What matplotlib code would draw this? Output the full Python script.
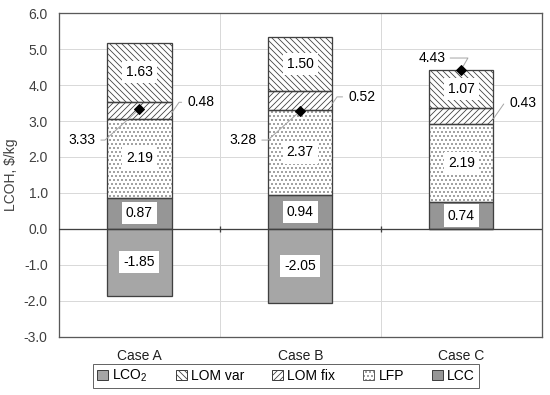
import numpy as np
import matplotlib.pyplot as plt
from matplotlib.patches import Patch

# Saved at 72 dpi so the hatch tile is a whole number of pixels (crisp hatches);
# S scales sizes given in points to look as they would at 100 dpi.
DPI = 72
S = 100 / DPI

plt.rcParams['font.family'] = ['Liberation Sans', 'DejaVu Sans']
plt.rcParams['mathtext.default'] = 'regular'
plt.rcParams['hatch.linewidth'] = 0.8

# Data
cases = ["Case A", "Case B", "Case C"]
lcc = [0.87, 0.94, 0.74]
lfp = [2.19, 2.37, 2.19]
lom_fix = [0.48, 0.52, 0.43]
lom_var = [1.63, 1.50, 1.07]
lco2 = [-1.85, -2.05, 0.0]
total = [3.33, 3.28, 4.43]

x = np.arange(len(cases))
w = 0.4
edge = "#404040"

H_VAR = "\\" * 4
H_FIX = "/" * 4
H_LFP = "." * 3
H_LCC = "|" * 6

fig = plt.figure(figsize=(550 / DPI, 395 / DPI), dpi=DPI)
ax = fig.add_axes([0.107, 0.147, 0.878, 0.820])

# Positive stack: LCC, LFP, LOM fix, LOM var
bottom = np.zeros(len(cases))
segs = [
    ("LCC", lcc, "#d0d0d0", H_LCC, "#404040"),
    ("LFP", lfp, "white", H_LFP, "#606060"),
    ("LOM fix", lom_fix, "white", H_FIX, "#404040"),
    ("LOM var", lom_var, "white", H_VAR, "#404040"),
]
centers = {}
for name, vals, fc, hatch, hc in segs:
    vals = np.array(vals)
    ax.bar(x, vals, w, bottom=bottom, facecolor=fc, hatch=hatch,
           edgecolor=hc, linewidth=0, zorder=2)
    ax.bar(x, vals, w, bottom=bottom, fill=False, edgecolor=edge,
           linewidth=1.3, zorder=3)
    centers[name] = bottom + vals / 2
    bottom = bottom + vals

# Negative LCO2
ax.bar(x, lco2, w, color="#a6a6a6", edgecolor=edge, linewidth=1.3, zorder=3)

box = dict(boxstyle="square,pad=0.3", facecolor="white", edgecolor="none")
fs = 10 * S
lead = dict(arrowstyle="-", color="#a6a6a6", lw=1.0)

# Labels inside bars
for i in range(len(cases)):
    for name, vals in (("LCC", lcc), ("LFP", lfp), ("LOM var", lom_var)):
        ax.text(x[i], centers[name][i], f"{vals[i]:.2f}", ha="center", va="center",
                fontsize=fs, bbox=box, zorder=5)
    if lco2[i] != 0:
        ax.text(x[i], lco2[i] / 2, f"{lco2[i]:.2f}", ha="center", va="center",
                fontsize=fs, bbox=box, zorder=5)

# LOM fix labels to the right of bars, with leader lines
fix_dy = [0.22, 0.10, 0.36]
for i in range(len(cases)):
    ax.annotate(f"{lom_fix[i]:.2f}", xy=(x[i] + w / 2, centers["LOM fix"][i] - 0.08),
                xytext=(x[i] + 0.30, centers["LOM fix"][i] + fix_dy[i]),
                ha="left", va="center", fontsize=fs, zorder=6,
                arrowprops=dict(lead, connectionstyle="angle,angleA=0,angleB=55,rad=0",
                                shrinkA=4, shrinkB=0))

# Total markers
ax.plot(x, total, linestyle="none", marker="D", color="black", markersize=5 * S, zorder=7)
tot_dx = [-0.27, -0.27, -0.10]
tot_dy = [-0.86, -0.81, 0.32]
tot_ang = [42, 42, 60]
for i in range(len(cases)):
    ax.annotate(f"{total[i]:.2f}", xy=(x[i], total[i]),
                xytext=(x[i] + tot_dx[i], total[i] + tot_dy[i]),
                ha="right", va="center", fontsize=fs, zorder=6,
                arrowprops=dict(lead, connectionstyle=f"angle,angleA=0,angleB={tot_ang[i]},rad=0",
                                shrinkA=3, shrinkB=4))

# Axes
ax.set_xlim(-0.5, 2.5)
ax.set_ylim(-3, 6)
yt = np.arange(-3, 7, 1)
ax.set_yticks(yt)
ax.set_yticklabels([f"{v:.1f}" for v in yt], fontsize=fs, color="#404040")
ax.set_xticks(x)
ax.set_xticklabels(cases, fontsize=fs, color="#202020")
ax.set_xticks([0.5, 1.5], minor=True)
ax.tick_params(axis="both", which="both", length=0)
ax.tick_params(axis="x", pad=9 * S)
ax.tick_params(axis="y", pad=8 * S)
ax.grid(axis="y", which="major", color="#d9d9d9", lw=1.0, zorder=0)
ax.grid(axis="x", which="minor", color="#d9d9d9", lw=1.0, zorder=0)
ax.set_axisbelow(True)
ax.axhline(0, color="#404040", lw=1.3, zorder=4)
ax.vlines([0.5, 1.5], -0.08, 0.08, color="#404040", lw=1.3, zorder=4)
for s in ax.spines.values():
    s.set_color("#595959")
    s.set_linewidth(1.3)
ax.set_ylabel(r"LCOH, \$/kg", fontsize=fs, color="#404040", labelpad=4 * S)

# Legend
handles = [
    Patch(facecolor="#a6a6a6", edgecolor=edge, label="LCO$_2$"),
    Patch(facecolor="white", edgecolor=edge, hatch=H_VAR, label="LOM var"),
    Patch(facecolor="white", edgecolor=edge, hatch=H_FIX, label="LOM fix"),
    Patch(facecolor="white", edgecolor="#606060", hatch=H_LFP, label="LFP"),
    Patch(facecolor="#d0d0d0", edgecolor=edge, hatch=H_LCC, label="LCC"),
]
leg = fig.legend(handles=handles, loc="center", bbox_to_anchor=(0.52, 0.048), ncol=5,
                 fontsize=fs, frameon=True, fancybox=False, handlelength=0.8,
                 handleheight=0.8, handletextpad=0.3, columnspacing=2.0,
                 borderpad=0.3)
leg.get_frame().set_edgecolor("#404040")
leg.get_frame().set_linewidth(1.0)

fig.savefig("out.png", dpi=DPI)
